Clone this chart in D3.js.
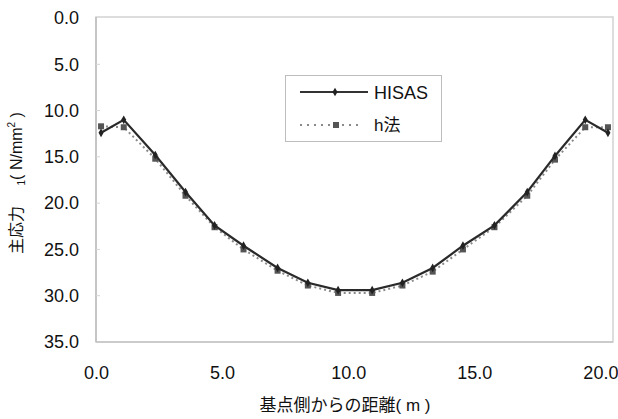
<!DOCTYPE html>
<html><head><meta charset="utf-8">
<script src="https://cdn.jsdelivr.net/npm/d3@7"></script>
<style>body{margin:0;background:#fff}svg{display:block}</style>
</head><body><svg id="c" width="618" height="419"></svg>
<script>
const distances = [0.2, 1.1, 2.35, 3.55, 4.7, 5.85, 7.2, 8.4, 9.6, 10.95, 12.15, 13.35, 14.55, 15.8, 17.1, 18.2, 19.4, 20.3];
const hisas = [12.4, 11.0, 14.8, 18.8, 22.4, 24.6, 27.0, 28.6, 29.4, 29.4, 28.6, 27.0, 24.6, 22.4, 18.8, 14.9, 11.0, 12.4];
const hMethod = [11.7, 11.8, 15.2, 19.2, 22.6, 25.0, 27.3, 28.9, 29.7, 29.7, 28.9, 27.4, 25.0, 22.6, 19.2, 15.3, 11.8, 11.8];
const xTicks = [0, 5, 10, 15, 20];
const yTicks = [0, 5, 10, 15, 20, 25, 30, 35];
const seriesNames = ["HISAS", "h法"];

const svg = d3.select("#c");
const L = 96, R = 613, T = 18, B = 342;
const x = d3.scaleLinear().domain([0, 20.5]).range([L, R]);
const y = d3.scaleLinear().domain([0, 35]).range([T, B]);
const latin = "'Liberation Sans', Arial, sans-serif";
const cjk = "'Liberation Sans', 'Noto Sans CJK JP', sans-serif";

// plot frame
svg.append("rect").attr("x", L).attr("y", T - 1).attr("width", R - L).attr("height", B - T + 1)
  .attr("fill", "none").attr("stroke", "#d2d2d2").attr("stroke-width", 1.5);
svg.append("line").attr("x1", L).attr("x2", L).attr("y1", T - 1).attr("y2", B).attr("stroke", "#bdbdbd").attr("stroke-width", 1.5);
svg.append("line").attr("x1", L).attr("x2", R).attr("y1", B).attr("y2", B).attr("stroke", "#c4c4c4").attr("stroke-width", 1.5);

// y axis
const yAxis = d3.axisLeft(y).tickValues(yTicks).tickFormat(d3.format(".1f")).tickSize(0).tickPadding(17);
const gy = svg.append("g").attr("transform", `translate(${L},0)`).call(yAxis);
gy.select(".domain").remove();
gy.selectAll("text").attr("font-family", latin).attr("font-size", 18).attr("fill", "#111");
svg.append("g").selectAll("line").data(yTicks.slice(1, -1)).join("line")
  .attr("x1", L).attr("x2", L + 4).attr("y1", d => y(d)).attr("y2", d => y(d))
  .attr("stroke", "#d5d5d5");

// x axis
const xAxis = d3.axisBottom(x).tickValues(xTicks).tickFormat(d3.format(".1f")).tickSize(0).tickPadding(24);
const gx = svg.append("g").attr("transform", `translate(0,${B})`).call(xAxis);
gx.select(".domain").remove();
gx.selectAll("text").attr("font-family", latin).attr("font-size", 18).attr("fill", "#111");

// axis titles
svg.append("text").attr("x", 345).attr("y", 411).attr("text-anchor", "middle")
  .attr("font-family", cjk).attr("font-size", 17).attr("fill", "#111").text("基点側からの距離( m )");
const yt = svg.append("text").attr("transform", "translate(22,183) rotate(-90)").attr("text-anchor", "middle")
  .attr("font-family", cjk).attr("font-size", 16).attr("fill", "#111");
yt.append("tspan").text("主応力　  ");
yt.append("tspan").attr("font-size", 10).attr("dy", 3).text("1");
yt.append("tspan").attr("dy", -3).text("( N/mm");
yt.append("tspan").attr("font-size", 10).attr("dy", -7).text("2");
yt.append("tspan").attr("dy", 7).text(" )");

const dataA = distances.map((d, i) => [d, hisas[i]]);
const dataB = distances.map((d, i) => [d, hMethod[i]]);
const line = d3.line().x(d => x(d[0])).y(d => y(d[1]));

// h法 dotted
svg.append("path").datum(dataB).attr("d", line).attr("fill", "none")
  .attr("stroke", "#8a8a8a").attr("stroke-width", 2).attr("stroke-dasharray", "2,3");
svg.append("g").selectAll("rect").data(dataB).join("rect")
  .attr("x", d => x(d[0]) - 3).attr("y", d => y(d[1]) - 3).attr("width", 6).attr("height", 6)
  .attr("fill", "#555");

// HISAS solid
svg.append("path").datum(dataA).attr("d", line).attr("fill", "none")
  .attr("stroke", "#2a2a2a").attr("stroke-width", 2.2);
svg.append("g").selectAll("path").data(dataA).join("path")
  .attr("d", d3.symbol(d3.symbolDiamond, 22))
  .attr("transform", d => `translate(${x(d[0])},${y(d[1])})`).attr("fill", "#222");

// legend
const lg = svg.append("g");
lg.append("rect").attr("x", 285.5).attr("y", 75.5).attr("width", 156).attr("height", 66)
  .attr("fill", "#fff").attr("stroke", "#bdbdbd");
lg.append("line").attr("x1", 300).attr("x2", 368).attr("y1", 92).attr("y2", 92).attr("stroke", "#333").attr("stroke-width", 2.2);
lg.append("path").attr("d", d3.symbol(d3.symbolDiamond, 22)).attr("transform", "translate(335,92)").attr("fill", "#222");
lg.append("text").attr("x", 374).attr("y", 98.5).attr("font-family", latin).attr("font-size", 18).attr("fill", "#111").text(seriesNames[0]);
lg.append("line").attr("x1", 300).attr("x2", 362).attr("y1", 125).attr("y2", 125).attr("stroke", "#8a8a8a").attr("stroke-width", 2).attr("stroke-dasharray", "2,5");
lg.append("rect").attr("x", 333).attr("y", 122).attr("width", 6).attr("height", 6).attr("fill", "#555");
lg.append("text").attr("x", 374).attr("y", 131).attr("font-family", cjk).attr("font-size", 17).attr("fill", "#111").text(seriesNames[1]);
</script></body></html>
